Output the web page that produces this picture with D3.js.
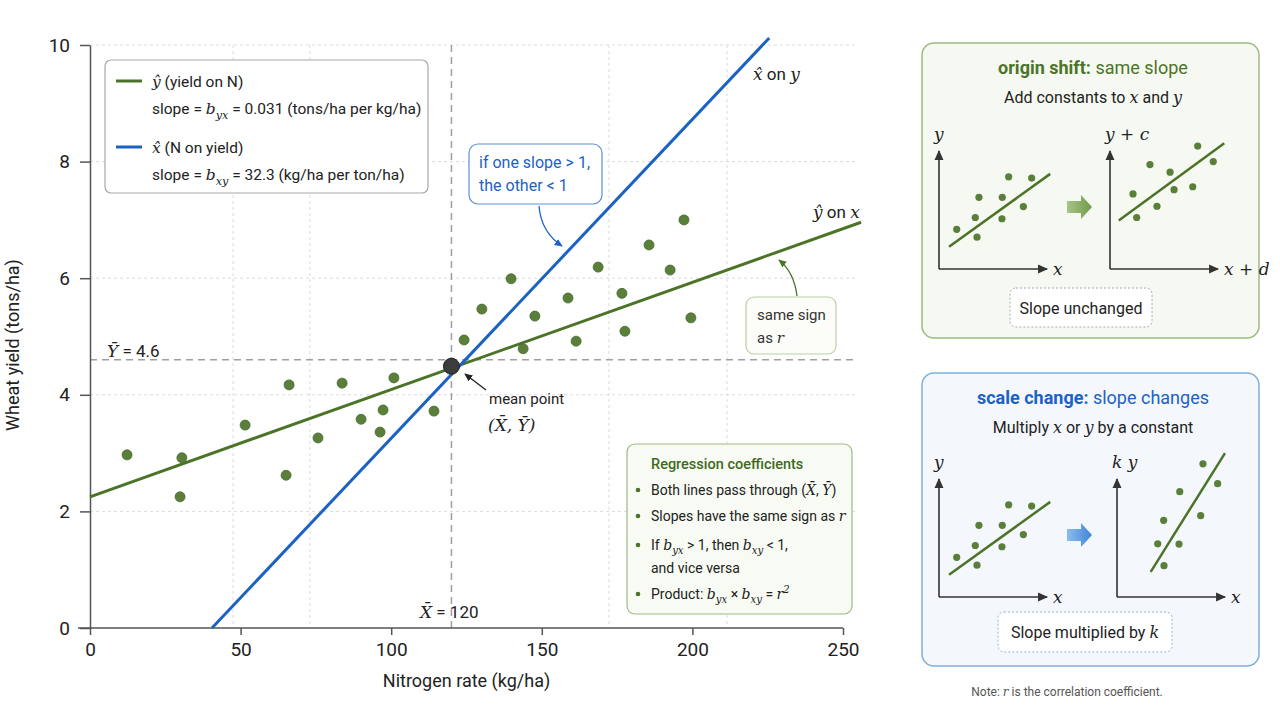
<!DOCTYPE html>
<html>
<head>
<meta charset="utf-8">
<script src="https://cdn.jsdelivr.net/npm/d3@7"></script>
<style>
  body { margin: 0; background: #fff; }
  svg { display: block; font-family: Roboto, "Noto Sans", sans-serif; }
</style>
</head>
<body>
<div id="chart"></div>
<script>
// ---- data ----
const nitrogen = [12.3, 30.5, 29.9, 51.5, 66.1, 65.1, 75.7, 83.7, 90.0, 97.3, 96.3, 100.9, 114.2,
  124.2, 130.1, 139.8, 143.8, 147.7, 158.7, 161.4, 168.7, 176.6, 177.6, 185.6, 192.6, 197.2, 199.5];
const yieldT = [2.97, 2.92, 2.25, 3.48, 4.17, 2.62, 3.26, 4.20, 3.58, 3.74, 3.36, 4.29, 3.72,
  4.94, 5.47, 5.99, 4.79, 5.35, 5.66, 4.92, 6.19, 5.74, 5.09, 6.57, 6.14, 7.00, 5.32];
const yOnX = [[0, 2.25], [256, 6.96]];      // y-hat regression line
const xOnY = [[40.5, 0], [225.5, 10.12]];   // x-hat regression line
const meanX = 120, meanY = 4.6;
const meanPoint = [120, 4.49];
const xTicks = [0, 50, 100, 150, 200, 250];
const yTicks = [0, 2, 4, 6, 8, 10];
const gridX = [47.5, 73, 172.3, 211.5];
const gridY = [2, 4, 6, 8, 10];

// small sketches in the side panels (unit coordinates)
const basePts = [[0.164, 0.342], [0.336, 0.444], [0.352, 0.274], [0.370, 0.618], [0.586, 0.618],
  [0.583, 0.433], [0.645, 0.795], [0.781, 0.538], [0.858, 0.784]];
const baseLine = [[0.093, 0.191], [1.03, 0.82]];
const shiftPts = [[0.213, 0.647], [0.247, 0.444], [0.370, 0.900], [0.435, 0.541], [0.556, 0.835],
  [0.593, 0.684], [0.766, 0.709], [0.812, 1.06], [0.956, 0.926]];
const shiftLine = [[0.081, 0.419], [1.058, 1.085]];
const scalePts = [[0.435, 0.270], [0.377, 0.458], [0.574, 0.456], [0.432, 0.661], [0.581, 0.908],
  [0.775, 0.701], [0.796, 1.148], [0.932, 0.977]];
const scaleLine = [[0.312, 0.217], [1.0, 1.241]];

const GREEN = '#4b7429', DOT = '#5a7f3a', BLUE = '#1c62c4', SERIF = '"DejaVu Serif", "Liberation Serif", serif';

const svg = d3.select('#chart').append('svg').attr('width', 1280).attr('height', 720);
svg.append('rect').attr('width', 1280).attr('height', 720).attr('fill', '#fff');

// arrow markers
const defs = svg.append('defs');
[['arrDark', '#222'], ['arrBlue', BLUE], ['arrGreen', GREEN], ['arrAxis', '#333']].forEach(([id, c]) => {
  defs.append('marker').attr('id', id).attr('viewBox', '0 0 10 10').attr('refX', 8).attr('refY', 5)
    .attr('markerWidth', 7).attr('markerHeight', 7).attr('orient', 'auto-start-reverse')
    .append('path').attr('d', 'M0,1 L9,5 L0,9 Z').attr('fill', c);
});
const gGrad = defs.append('linearGradient').attr('id', 'gGrad');
gGrad.append('stop').attr('offset', '0%').attr('stop-color', '#a9c489');
gGrad.append('stop').attr('offset', '100%').attr('stop-color', '#6f9a48');
const bGrad = defs.append('linearGradient').attr('id', 'bGrad');
bGrad.append('stop').attr('offset', '0%').attr('stop-color', '#8dbbee');
bGrad.append('stop').attr('offset', '100%').attr('stop-color', '#3f86d8');

// text with math parts: 'n' normal, 'm' math italic, 'sub', 'sup', 'b' bold
function rich(sel, x, y, parts, size, color, anchor) {
  const t = sel.append('text').attr('x', x).attr('y', y).attr('font-size', size)
    .attr('fill', color || '#222').attr('text-anchor', anchor || 'start');
  let shift = 0;
  parts.forEach(p => {
    const [str, kind] = typeof p === 'string' ? [p, 'n'] : p;
    const ts = t.append('tspan').text(str);
    let target = 0;
    if (kind === 'sub') target = size * 0.3;
    if (kind === 'sup') target = -size * 0.4;
    if (target !== shift) { ts.attr('dy', target - shift); shift = target; }
    if (kind === 'm' || kind === 'sub' || kind === 'sup') ts.attr('font-family', SERIF).attr('font-style', 'italic');
    if (kind === 'sub' || kind === 'sup') ts.attr('font-size', size * 0.72);
    if (kind === 'b') ts.attr('font-weight', 'bold');
  });
  return t;
}

// ---- main scatter ----
const x = d3.scaleLinear().domain([0, 250]).range([90, 843]);
const y = d3.scaleLinear().domain([0, 10]).range([628, 45]);
const right = 858;

const grid = svg.append('g').attr('stroke', '#dcdcdc').attr('stroke-dasharray', '3,3').attr('stroke-width', 1);
grid.selectAll('.gy').data(gridY).join('line')
  .attr('x1', x(0)).attr('x2', right).attr('y1', d => y(d)).attr('y2', d => y(d));
grid.selectAll('.gx').data(gridX).join('line')
  .attr('x1', d => x(d)).attr('x2', d => x(d)).attr('y1', y(10)).attr('y2', y(0));

// mean lines
const meanG = svg.append('g').attr('stroke', '#a0a0a0').attr('stroke-width', 1.5).attr('stroke-dasharray', '7,5');
meanG.append('line').attr('x1', x(meanX)).attr('x2', x(meanX)).attr('y1', y(10)).attr('y2', y(0));
meanG.append('line').attr('x1', x(0)).attr('x2', right).attr('y1', y(meanY)).attr('y2', y(meanY));

// axes
const yAxisG = svg.append('g').attr('transform', `translate(${x(0)},0)`)
  .call(d3.axisLeft(y).tickValues(yTicks).tickSize(10).tickSizeOuter(0).tickPadding(10));
const xAxisG = svg.append('g').attr('transform', `translate(0,${y(0)})`)
  .call(d3.axisBottom(x).tickValues(xTicks).tickSize(7).tickSizeOuter(0).tickPadding(8));
[yAxisG, xAxisG].forEach(g => {
  g.selectAll('path, line').attr('stroke', '#555').attr('stroke-width', 1.5);
  g.selectAll('text').attr('font-size', 19).attr('fill', '#222').attr('font-family', 'Roboto, sans-serif');
});
xAxisG.select('.domain').attr('d', `M${x(0) - 12},0H${x(250)}`);

svg.append('text').attr('x', x(125)).attr('y', 687).attr('text-anchor', 'middle')
  .attr('font-size', 18).attr('fill', '#222').text('Nitrogen rate (kg/ha)');
svg.append('text').attr('transform', 'translate(19,345) rotate(-90)').attr('text-anchor', 'middle')
  .attr('font-size', 18).attr('fill', '#222').text('Wheat yield (tons/ha)');

// regression lines
const lineGen = d3.line().x(d => x(d[0])).y(d => y(d[1]));
svg.append('path').attr('d', lineGen(yOnX)).attr('stroke', GREEN).attr('stroke-width', 3).attr('fill', 'none');
svg.append('path').attr('d', lineGen(xOnY)).attr('stroke', BLUE).attr('stroke-width', 3).attr('fill', 'none');

// points
svg.append('g').selectAll('circle').data(nitrogen.map((n, i) => [n, yieldT[i]])).join('circle')
  .attr('cx', d => x(d[0])).attr('cy', d => y(d[1])).attr('r', 5)
  .attr('fill', DOT).attr('stroke', '#4a6b30').attr('stroke-width', 0.8);

svg.append('circle').attr('cx', x(meanPoint[0])).attr('cy', y(meanPoint[1])).attr('r', 8)
  .attr('fill', '#3c3c3c').attr('stroke', '#222').attr('stroke-width', 1);

// labels on the main plot
rich(svg, 107, 357, [['Ȳ', 'm'], ' = 4.6'], 17, '#222');
rich(svg, 420, 618, [['X̄', 'm'], ' = 120'], 17, '#222');
rich(svg, 753, 80, [['x̂', 'm'], ' on ', ['y', 'm']], 17, '#222');
rich(svg, 813, 218, [['ŷ', 'm'], ' on ', ['x', 'm']], 17, '#222');

// mean point annotation
svg.append('path').attr('d', 'M486,390 L465,374').attr('stroke', '#222').attr('stroke-width', 1.3)
  .attr('marker-end', 'url(#arrDark)');
svg.append('text').attr('x', 489).attr('y', 404).attr('font-size', 15).attr('fill', '#222').text('mean point');
rich(svg, 488, 431, [['(X̄, Ȳ)', 'm']], 17, '#222');

// blue callout
svg.append('rect').attr('x', 469).attr('y', 144).attr('width', 133).attr('height', 60).attr('rx', 9)
  .attr('fill', '#fff').attr('stroke', '#5a8fd8').attr('stroke-width', 1.2);
svg.append('text').attr('x', 479).attr('y', 168).attr('font-size', 16).attr('fill', BLUE).text('if one slope > 1,');
svg.append('text').attr('x', 479).attr('y', 191).attr('font-size', 16).attr('fill', BLUE).text('the other < 1');
svg.append('path').attr('d', 'M539,206 Q541,232 562,246').attr('stroke', BLUE).attr('stroke-width', 1.3)
  .attr('fill', 'none').attr('marker-end', 'url(#arrBlue)');

// green callout
svg.append('rect').attr('x', 746).attr('y', 297).attr('width', 90).attr('height', 57).attr('rx', 8)
  .attr('fill', '#fcfdf9').attr('stroke', '#bccfa5').attr('stroke-width', 1.2);
svg.append('text').attr('x', 757).attr('y', 320).attr('font-size', 15).attr('fill', '#333').text('same sign');
rich(svg, 757, 343, ['as ', ['r', 'm']], 15, '#333');
svg.append('path').attr('d', 'M797,296 Q794,272 779,260').attr('stroke', GREEN).attr('stroke-width', 1.3)
  .attr('fill', 'none').attr('marker-end', 'url(#arrGreen)');

// legend
const leg = svg.append('g');
leg.append('rect').attr('x', 105).attr('y', 60).attr('width', 323).attr('height', 133).attr('rx', 6)
  .attr('fill', '#fff').attr('stroke', '#a8a8a8').attr('stroke-width', 1.2);
leg.append('line').attr('x1', 116).attr('x2', 142).attr('y1', 81).attr('y2', 81).attr('stroke', GREEN).attr('stroke-width', 3);
leg.append('line').attr('x1', 116).attr('x2', 142).attr('y1', 147).attr('y2', 147).attr('stroke', BLUE).attr('stroke-width', 3);
rich(leg, 152, 87, [['ŷ', 'm'], '  (yield on N)'], 15.5, '#222');
rich(leg, 152, 114, ['slope = ', ['b', 'm'], ['yx', 'sub'], ' = 0.031 (tons/ha per kg/ha)'], 15.5, '#222');
rich(leg, 152, 153, [['x̂', 'm'], '  (N on yield)'], 15.5, '#222');
rich(leg, 152, 180, ['slope = ', ['b', 'm'], ['xy', 'sub'], ' = 32.3 (kg/ha per ton/ha)'], 15.5, '#222');

// regression coefficient box
const rc = svg.append('g');
rc.append('rect').attr('x', 627).attr('y', 444).attr('width', 225).attr('height', 170).attr('rx', 8)
  .attr('fill', '#f8fbf3').attr('stroke', '#9dba80').attr('stroke-width', 1.2);
rc.append('text').attr('x', 651).attr('y', 469).attr('font-size', 14.5).attr('font-weight', 500)
  .attr('fill', '#3f6a22').text('Regression coefficients');
[495, 521, 550, 599].forEach(cy => rc.append('circle').attr('cx', 638).attr('cy', cy - 5).attr('r', 2.3).attr('fill', '#4b7429'));
rich(rc, 651, 495, ['Both lines pass through (', ['X̄', 'm'], ', ', ['Ȳ', 'm'], ')'], 14, '#222');
rich(rc, 651, 521, ['Slopes have the same sign as ', ['r', 'm']], 14, '#222');
rich(rc, 651, 550, ['If ', ['b', 'm'], ['yx', 'sub'], ' > 1, then ', ['b', 'm'], ['xy', 'sub'], ' < 1,'], 14, '#222');
rc.append('text').attr('x', 651).attr('y', 573).attr('font-size', 14).attr('fill', '#222').text('and vice versa');
rich(rc, 651, 599, ['Product:  ', ['b', 'm'], ['yx', 'sub'], ' × ', ['b', 'm'], ['xy', 'sub'], ' = ', ['r', 'm'], ['2', 'sup']], 14, '#222');

// ---- side panels ----
function drawMini(g, ox, oy, pts, line, xLab, yLab) {
  const sx = d3.scaleLinear().domain([0, 1]).range([ox, ox + 108]);
  const sy = d3.scaleLinear().domain([0, 1]).range([oy, oy - 116]);
  g.append('path').attr('d', `M${ox},${oy} V${oy - 118}`).attr('stroke', '#333').attr('stroke-width', 1.6)
    .attr('marker-end', 'url(#arrAxis)');
  g.append('path').attr('d', `M${ox},${oy} H${ox + 108}`).attr('stroke', '#333').attr('stroke-width', 1.6)
    .attr('marker-end', 'url(#arrAxis)');
  g.append('path').attr('d', d3.line().x(d => sx(d[0])).y(d => sy(d[1]))(line))
    .attr('stroke', GREEN).attr('stroke-width', 2.5).attr('fill', 'none');
  g.selectAll(null).data(pts).join('circle').attr('cx', d => sx(d[0])).attr('cy', d => sy(d[1]))
    .attr('r', 3.6).attr('fill', DOT);
  rich(g, ox + 114, oy + 6, xLab, 17, '#222');
  rich(g, ox - 5, oy - 129, yLab, 17, '#222');
}

// panel 1: origin shift
const p1 = svg.append('g');
p1.append('rect').attr('x', 922).attr('y', 43).attr('width', 337).attr('height', 295).attr('rx', 12)
  .attr('fill', '#f6f9f1').attr('stroke', '#9dba80').attr('stroke-width', 1.5);
rich(p1, 1093, 74, [['origin shift:', 'b'], '  same slope'], 18, GREEN, 'middle');
rich(p1, 1093, 103, ['Add constants to ', ['x', 'm'], ' and ', ['y', 'm']], 16, '#222', 'middle');
drawMini(p1, 939, 269, basePts, baseLine, [['x', 'm']], [['y', 'm']]);
drawMini(p1, 1110, 269, shiftPts, shiftLine, [['x + d', 'm']], [['y + c', 'm']]);
p1.append('path').attr('d', 'M1067,201 H1081 V195 L1092,207 L1081,219 V213 H1067 Z').attr('fill', 'url(#gGrad)');
p1.append('rect').attr('x', 1010).attr('y', 288).attr('width', 142).attr('height', 39).attr('rx', 6)
  .attr('fill', '#fff').attr('stroke', '#aaa').attr('stroke-dasharray', '2,2');
p1.append('text').attr('x', 1081).attr('y', 314).attr('text-anchor', 'middle').attr('font-size', 16)
  .attr('fill', '#222').text('Slope unchanged');

// panel 2: scale change
const p2 = svg.append('g');
p2.append('rect').attr('x', 922).attr('y', 373).attr('width', 337).attr('height', 293).attr('rx', 12)
  .attr('fill', '#f4f8fd').attr('stroke', '#7fadde').attr('stroke-width', 1.5);
rich(p2, 1093, 404, [['scale change:', 'b'], '  slope changes'], 18, BLUE, 'middle');
rich(p2, 1093, 433, ['Multiply ', ['x', 'm'], ' or ', ['y', 'm'], ' by a constant'], 16, '#222', 'middle');
drawMini(p2, 939, 597, basePts, baseLine, [['x', 'm']], [['y', 'm']]);
drawMini(p2, 1117, 597, scalePts, scaleLine, [['x', 'm']], [['k y', 'm']]);
p2.append('path').attr('d', 'M1067,529 H1081 V523 L1092,535 L1081,547 V541 H1067 Z').attr('fill', 'url(#bGrad)');
p2.append('rect').attr('x', 998).attr('y', 612).attr('width', 174).attr('height', 40).attr('rx', 6)
  .attr('fill', '#fff').attr('stroke', '#8fb4de').attr('stroke-dasharray', '2,2');
rich(p2, 1085, 638, ['Slope multiplied by ', ['k', 'm']], 16, '#222', 'middle');

rich(svg, 1067, 696, ['Note: ', ['r', 'm'], ' is the correlation coefficient.'], 12, '#555', 'middle');
</script>
</body>
</html>
